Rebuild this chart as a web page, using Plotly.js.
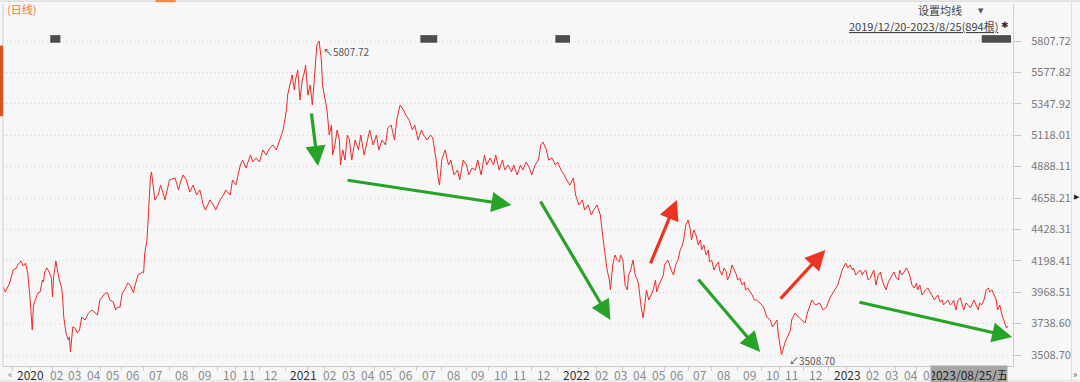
<!DOCTYPE html>
<html><head><meta charset="utf-8">
<script src="https://cdn.plot.ly/plotly-3.0.1.min.js"></script>
<style>html,body{margin:0;padding:0;background:#f7f7f7;}#chart{width:1080px;height:382px;}</style>
</head><body><div id="chart"></div>
<script>
// trading-day number (0 = 2019/12/20) and close values
const days = [0,2,6,9,12,13,16,18,20,22,24,26,27,28,31,33,35,36,37,39,41,43,44,45,47,48,50,52,53,54,56,58,59,60,61,62,64,66,68,70,73,76,79,82,84,86,91,93,95,98,100,101,104,106,108,111,113,116,117,120,124,125,126,128,129,130,131,132,135,138,140,142,144,147,148,153,156,157,160,163,166,169,172,175,178,180,184,187,189,193,196,198,202,204,207,211,213,216,220,222,225,228,231,234,237,240,243,246,249,252,253,255,257,259,260,262,264,266,268,269,271,273,275,277,279,281,283,284,286,288,290,292,293,295,297,299,300,302,304,306,308,310,313,316,318,321,324,326,329,332,334,337,340,342,345,348,350,353,356,358,361,364,366,369,372,374,377,380,382,385,387,388,390,393,396,398,401,404,406,409,412,414,417,420,422,425,428,430,433,436,438,441,444,446,449,452,454,457,460,462,465,468,470,473,476,478,480,483,485,488,491,493,496,499,501,504,507,509,512,515,517,520,523,525,528,531,533,535,537,539,540,542,544,546,548,549,551,553,555,556,558,560,562,564,565,567,569,571,572,574,576,578,580,581,583,585,587,588,591,594,596,598,600,602,604,605,607,609,611,612,614,616,618,620,621,623,625,627,628,630,632,634,636,637,639,641,643,644,646,648,650,652,653,655,657,659,660,662,664,666,668,670,673,676,679,682,684,688,689,692,695,697,700,701,704,708,713,715,717,719,722,726,729,732,735,739,742,746,749,751,753,755,756,758,760,762,764,765,767,769,771,772,774,776,778,780,781,783,785,787,788,790,792,794,796,797,799,801,803,804,806,808,810,812,813,815,817,819,820,822,824,826,828,829,831,833,835,836,838,840,842,844,845,847,849,851,852,854,856,858,860,861,863,865,867,868,870,872,874,876,877,879,881,883,884,886,888,890,892,893];
const closes = [4007,3970,4036,4131,4146,4168,4197,4160,4182,4109,3926,3692,3860,3897,3963,3970,4058,4043,4116,4146,4116,4073,3933,4080,4197,4153,4058,4007,3933,3787,3670,3619,3641,3531,3641,3714,3706,3670,3692,3787,3765,3816,3838,3816,3802,3911,3963,3963,3911,3897,3838,3853,3860,3963,3985,4036,4021,3963,4007,4094,4116,4109,4256,4351,4534,4680,4805,4849,4644,4680,4753,4702,4644,4753,4790,4805,4717,4753,4827,4790,4702,4753,4680,4717,4607,4570,4644,4607,4570,4644,4680,4717,4680,4790,4753,4900,4936,4878,4973,4922,4951,4922,5010,4973,5024,5046,5010,5083,5156,5303,5412,5486,5559,5449,5522,5595,5376,5522,5581,5632,5412,5486,5339,5559,5778,5807.72,5669,5486,5376,5303,5119,5193,4973,5046,5156,5083,4900,5010,4936,5119,5083,4936,5083,5010,5119,4973,5083,5156,5046,5119,5010,5083,5046,5171,5193,5083,5229,5339,5303,5266,5229,5156,5193,5083,5156,5119,5083,5119,5098,4936,4790,4753,4936,5010,4900,4936,4827,4863,4790,4936,4900,4827,4878,4863,4936,4827,4973,4900,4951,4900,4973,4863,4936,4863,4900,4849,4900,4827,4900,4863,4922,4878,4827,4900,4936,5046,5068,5010,4936,4951,4900,4922,4863,4827,4790,4753,4805,4680,4607,4644,4570,4607,4534,4570,4607,4534,4387,4241,4131,4058,3985,4168,4241,4204,4190,4241,4204,4021,3985,4094,4131,4204,4094,4058,4021,3875,3780,3911,3985,3911,3948,3985,4058,3970,4021,4058,4094,4168,4204,4131,4094,4168,4204,4278,4314,4351,4461,4497,4424,4351,4424,4387,4314,4351,4278,4314,4241,4278,4190,4204,4131,4168,4190,4131,4094,4146,4116,4058,4094,4168,4131,4094,4058,4073,4021,4043,3985,3999,3970,3948,3911,3911,3889,3860,3787,3765,3714,3765,3670,3508.70,3597,3641,3692,3765,3816,3780,3743,3816,3860,3911,3875,3889,3838,3860,3926,3985,4021,4131,4182,4146,4168,4131,4146,4094,4116,4131,4094,4116,4131,4058,4073,4094,4131,4021,4094,4116,4073,4021,3985,4043,4058,4094,4116,4073,4058,4131,4094,4116,4146,4131,4094,4021,3999,4036,3985,4021,3948,3970,3985,3999,3970,3948,3911,3926,3948,3897,3911,3875,3897,3911,3875,3889,3911,3838,3911,3926,3897,3838,3889,3875,3853,3875,3911,3875,3838,3889,3875,3911,3985,3999,3970,3985,3948,3911,3838,3875,3802,3750,3706,3721];

const yTicks = [5807.72,5577.82,5347.92,5118.01,4888.11,4658.21,4428.31,4198.41,3968.51,3738.60,3508.70];
const monthStarts = [8,24,44,66,87,105,125,148,169,191,207,228,251,271,286,309,330,348,368,390,412,432,448,470,493,512,528,551,570,588,609,630,653,674,690,712,734,750,770,793,812,832,852,873];
const monthLabels = ['2020','02','03','04','05','06','07','08','09','10','11','12','2021','02','03','04','05','06','07','08','09','10','11','12','2022','02','03','04','05','06','07','08','09','10','11','12','2023','02','03','04','05','06','07','08'];
const eventStart = [42,371,491,870];
const eventEnd = [51,386,504,896];
// arrows: [tailDay, tailValue, headDay, headValue]
const greenArrows = [[274,5288,280,4893],[305,4790,452,4607],[477,4644,540,3765],[617,4073,673,3531],[760,3897,897,3641]];
const redArrows = [[575,4168,599,4644],[690,3911,731,4278]];
const hiDay = 281, hiVal = 5807.72, loDay = 692, loVal = 3508.70;
const lastDateLabel = '2023/08/25/五';

const M = {l:3, r:67, t:4, b:16};
const W = 1080, H = 382;
const xr = [0, 897.8], yr = [3428.2, 6078.6];
const pw = W - M.l - M.r;
const toPx = d => M.l + (d - xr[0]) / (xr[1] - xr[0]) * pw;
const toDay = p => xr[0] + (p - M.l) / pw * (xr[1] - xr[0]);

const FONT = '"Noto Sans CJK SC","Noto Sans",sans-serif';
const ann = [];
const boxW = 78, boxRight = W - M.r - 5;
const boxLeft = boxRight - boxW;
// month labels, left aligned after tick, pushed right on collision; hidden under date box
let prevEnd = -100;
monthLabels.forEach((lab, i) => {
  const isYear = lab.length === 4;
  const w = lab.length * 6.9;
  let s = toPx(monthStarts[i]) + 3;
  if (s < prevEnd + 5) s = prevEnd + 5;
  prevEnd = s + w;
  if (s >= boxLeft - 2) return;
  let txt = lab;
  if (s + w > boxLeft) txt = lab.slice(0, Math.max(1, Math.floor((boxLeft - s) / 6.9)));
  ann.push({x: toDay(s), y: 0, xref:'x', yref:'paper', xanchor:'left', yanchor:'middle', yshift:-8,
    text: txt, showarrow:false, font:{family:FONT, size:12, color: isYear ? '#333' : '#8a8a8a'}});
});
ann.push({x:1, y:0, xref:'paper', yref:'paper', xanchor:'right', yanchor:'middle', yshift:-8, xshift:-5,
  text:lastDateLabel, showarrow:false, bgcolor:'#a6a6a6', borderpad:1, width:boxW - 4, height:14,
  font:{family:FONT, size:12, color:'#222'}});
ann.push({x:0, y:0, xref:'paper', yref:'paper', xanchor:'left', yanchor:'middle', yshift:-8, xshift:3,
  text:'«', showarrow:false, font:{family:FONT, size:9, color:'#777'}});
ann.push({x:1, y:0, xref:'paper', yref:'paper', xanchor:'left', yanchor:'middle', yshift:-8, xshift:58,
  text:'»', showarrow:false, font:{family:FONT, size:9, color:'#555'}});
ann.push({x:1, y:0.5, xref:'paper', yref:'paper', xanchor:'left', yanchor:'middle', xshift:59, yshift:-12,
  text:'▶', showarrow:false, font:{family:'DejaVu Sans', size:7, color:'#222'}});
// header texts
ann.push({x:0, y:1, xref:'paper', yref:'paper', xanchor:'left', yanchor:'middle', xshift:2, yshift:-5,
  text:'(日线)', showarrow:false, font:{family:FONT, size:11, color:'#f07a3a'}});
ann.push({x:1, y:1, xref:'paper', yref:'paper', xanchor:'right', yanchor:'middle', xshift:-50, yshift:-6, borderpad:0,
  text:'设置均线', showarrow:false, font:{family:FONT, size:11, color:'#444'}});
ann.push({x:1, y:1, xref:'paper', yref:'paper', xanchor:'right', yanchor:'middle', xshift:-27, yshift:-7,
  text:'▼', showarrow:false, font:{family:'DejaVu Sans', size:7, color:'#555'}});
ann.push({x:1, y:1, xref:'paper', yref:'paper', xanchor:'right', yanchor:'middle', xshift:-14, yshift:-22, borderpad:0,
  text:'<span style="text-decoration:underline">2019/12/20-2023/8/25(894根)</span>', showarrow:false, font:{family:FONT, size:11, color:'#444'}});
ann.push({x:1, y:1, xref:'paper', yref:'paper', xanchor:'right', yanchor:'middle', xshift:-2, yshift:-21,
  text:'✱', showarrow:false, font:{family:'DejaVu Sans', size:9, color:'#333'}});
// extreme labels
ann.push({x:hiDay, y:hiVal, xref:'x', yref:'y', xanchor:'left', yanchor:'middle', xshift:2, yshift:-10,
  text:'↖' + hiVal.toFixed(2), showarrow:false, font:{family:FONT, size:10, color:'#555'}});
ann.push({x:loDay, y:loVal, xref:'x', yref:'y', xanchor:'left', yanchor:'middle', xshift:6, yshift:-5,
  text:'↙' + loVal.toFixed(2), showarrow:false, font:{family:FONT, size:10, color:'#555'}});
// arrows
function addArrow(a, col){
  ann.push({x:a[2], y:a[3], ax:a[0], ay:a[1], xref:'x', yref:'y', axref:'x', ayref:'y', text:'',
    showarrow:true, arrowhead:2, arrowsize:1.25, arrowwidth:3.2, arrowcolor:col, standoff:0});
}
greenArrows.forEach(a => addArrow(a, '#27a327'));
redArrows.forEach(a => addArrow(a, '#ee3322'));

const shapes = [];
eventStart.forEach((s, i) => {
  shapes.push({type:'rect', xref:'x', yref:'paper', x0:s, x1:eventEnd[i], y0:0.893, y1:0.914,
    fillcolor:'#4d4d4d', line:{width:0}});
});
// frame lines
shapes.push({type:'line', xref:'paper', yref:'paper', x0:0, x1:0, y0:0, y1:1, line:{color:'#cfcfcf', width:1}});
shapes.push({type:'line', xref:'paper', yref:'paper', x0:-0.003, x1:1.066, y0:1.008, y1:1.008, line:{color:'#d0d0d0', width:1}});
shapes.push({type:'line', xref:'paper', yref:'paper', x0:1.058, x1:1.058, y0:-0.04, y1:1.008, line:{color:'#dcdcdc', width:1}});
shapes.push({type:'line', xref:'paper', yref:'paper', x0:-0.003, x1:1.066, y0:-0.041, y1:-0.041, line:{color:'#dcdcdc', width:1}});
shapes.push({type:'rect', xref:'paper', yref:'paper', x0:-0.003, x1:0, y0:0.69, y1:0.885, fillcolor:'#d9531e', line:{width:0}});
shapes.push({type:'rect', xref:'paper', yref:'paper', x0:0.151, x1:0.171, y0:1.005, y1:1.011, fillcolor:'#f08a4a', line:{width:0}});

const trace = {x: days, y: closes, type:'scatter', mode:'lines', line:{color:'#ee2a2a', width:1}, hoverinfo:'skip'};

const layout = {
  width: W, height: H, margin: M,
  paper_bgcolor:'#f7f7f7', plot_bgcolor:'#f7f7f7', showlegend:false,
  xaxis:{range: xr, tickvals: monthStarts, ticks:'outside', ticklen:4, tickcolor:'#cfcfcf', showticklabels:false,
    showgrid:false, zeroline:false, showline:true, linecolor:'#c8c8c8', linewidth:1, fixedrange:true},
  yaxis:{range: yr, side:'right', tickvals: yTicks, ticktext: yTicks.map(v => v.toFixed(2)),
    ticks:'outside', ticklen:7, tickcolor:'#c8c8c8', ticklabelstandoff:8,
    tickfont:{family:FONT, size:11, color:'#7a7a7a'}, showgrid:true, gridcolor:'#d2d2d2', griddash:'1px,3px',
    zeroline:false, showline:true, linecolor:'#d0d0d0', fixedrange:true},
  annotations: ann, shapes: shapes
};
Plotly.newPlot('chart', [trace], layout, {staticPlot:true, displayModeBar:false});
</script></body></html>
